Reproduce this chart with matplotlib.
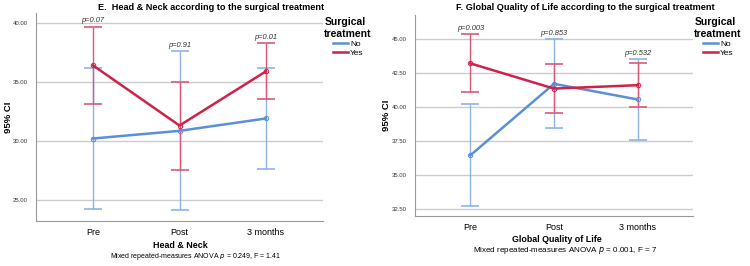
import numpy as np
import matplotlib
matplotlib.use("Agg")
import matplotlib.pyplot as plt
from matplotlib.lines import Line2D

plt.rcParams["font.family"] = ["Liberation Sans", "DejaVu Sans"]

# time points
groups = ["Pre", "Post", "3 months"]

# E. Head & Neck
hn_no = [30.2, 30.85, 31.9]
hn_no_lo = [24.25, 24.1, 27.6]
hn_no_hi = [36.15, 37.6, 36.2]
hn_yes = [36.4, 31.3, 35.9]
hn_yes_lo = [33.1, 27.5, 33.55]
hn_yes_hi = [39.7, 35.0, 38.3]
hn_p = ["p=0.07", "p=0.91", "p=0.01"]

# F. Global Quality of Life
ql_no = [36.45, 41.7, 40.55]
ql_no_lo = [32.7, 38.45, 37.6]
ql_no_hi = [40.25, 45.0, 43.5]
ql_yes = [43.2, 41.35, 41.6]
ql_yes_lo = [41.1, 39.55, 40.0]
ql_yes_hi = [45.35, 43.15, 43.25]
ql_p = ["p=0.003", "p=0.853", "p=0.532"]

blue = "#5b8fd8"
blue_l = "#8db3e6"
red = "#cf2149"
red_l = "#dc5a78"

fig = plt.figure(figsize=(7.5, 2.66), dpi=100)


def panel(rect, no, no_lo, no_hi, yes, yes_lo, yes_hi, pv, ylim, yticks):
    ax = fig.add_axes(rect)
    x = np.arange(len(groups))
    for m, lo, hi, c, cl in [(no, no_lo, no_hi, blue, blue_l),
                             (yes, yes_lo, yes_hi, red, red_l)]:
        m = np.array(m)
        err = [m - np.array(lo), np.array(hi) - m]
        ax.errorbar(x, m, yerr=err, fmt="none", ecolor=cl, elinewidth=1,
                    capsize=6.5, capthick=1.2, zorder=3)
        ax.plot(x, m, color=c, lw=1.8, marker="o", ms=3.2, mfc="none",
                mec=c, mew=0.7, zorder=4)
    # p values above the highest cap
    for i in range(len(groups)):
        top = max(no_hi[i], yes_hi[i])
        ax.annotate(pv[i], (x[i], top), xytext=(0, 1.5), textcoords="offset points",
                    ha="center", va="bottom", fontsize=5.4, style="italic", color="#333333")
    ax.set_xlim(-0.66, 2.66)
    ax.set_ylim(*ylim)
    ax.set_yticks(yticks)
    ax.set_yticklabels(["%.2f" % t for t in yticks], fontsize=4.3, color="#333333")
    ax.set_xticks(x)
    ax.set_xticklabels(groups, fontsize=6.5)
    ax.tick_params(axis="y", length=0, pad=6)
    ax.tick_params(axis="x", length=0, pad=5)
    ax.grid(axis="y", color="#cccccc", lw=1)
    ax.set_axisbelow(True)
    for s in ["top", "right"]:
        ax.spines[s].set_visible(False)
    for s in ["left", "bottom"]:
        ax.spines[s].set_color("#999999")
        ax.spines[s].set_linewidth(0.8)
    return ax


ax1 = panel([36 / 750, 45 / 266, 287 / 750, 208 / 266],
            hn_no, hn_no_lo, hn_no_hi, hn_yes, hn_yes_lo, hn_yes_hi, hn_p,
            (23.2, 40.85), [25, 30, 35, 40])
ax2 = panel([415 / 750, 50 / 266, 278 / 750, 201 / 266],
            ql_no, ql_no_lo, ql_no_hi, ql_yes, ql_yes_lo, ql_yes_hi, ql_p,
            (32.0, 46.75), [32.5, 35, 37.5, 40, 42.5, 45])

handles = [Line2D([], [], color=blue, lw=1.8), Line2D([], [], color=red, lw=1.8)]

for ax, title, tx, ty, lx in [
        (ax1, "E.  Head & Neck according to the surgical treatment", 211, 7, 348),
        (ax2, "F. Global Quality of Life according to the surgical treatment", 585, 8, 718)]:
    fig.text(tx / 750, 1 - ty / 266, title, ha="center", va="center",
             fontsize=6.6, fontweight="bold")
    ax.legend(handles, ["No", "Yes"], title="Surgical\ntreatment",
              loc="upper center", bbox_to_anchor=(lx / 750, 1 - 13 / 266),
              bbox_transform=fig.transFigure, frameon=False, fontsize=6,
              handlelength=1.8, handletextpad=0.3, labelspacing=0.15,
              borderpad=0, title_fontproperties={"weight": "bold", "size": 7.5})
    ax.set_ylabel("95% CI", fontsize=6.8, fontweight="bold")

ax1.yaxis.set_label_coords(-23 / 287, 0.5)
ax2.yaxis.set_label_coords(-24 / 278, 0.5)

fig.text(180 / 750, 1 - 245 / 266, "Head & Neck", ha="center", va="center",
         fontsize=6.4, fontweight="bold")
fig.text(196 / 750, 1 - 256 / 266, "Mixed repeated-measures ANOVA $\\it{p}$ = 0.249, F = 1.41",
         ha="center", va="center", fontsize=5.0)
fig.text(557 / 750, 1 - 240 / 266, "Global Quality of Life", ha="center", va="center",
         fontsize=6.4, fontweight="bold")
fig.text(565 / 750, 1 - 251 / 266, "Mixed repeated-measures ANOVA $\\it{p}$ = 0.001, F = 7",
         ha="center", va="center", fontsize=5.8)

fig.savefig("out.png", dpi=100)
